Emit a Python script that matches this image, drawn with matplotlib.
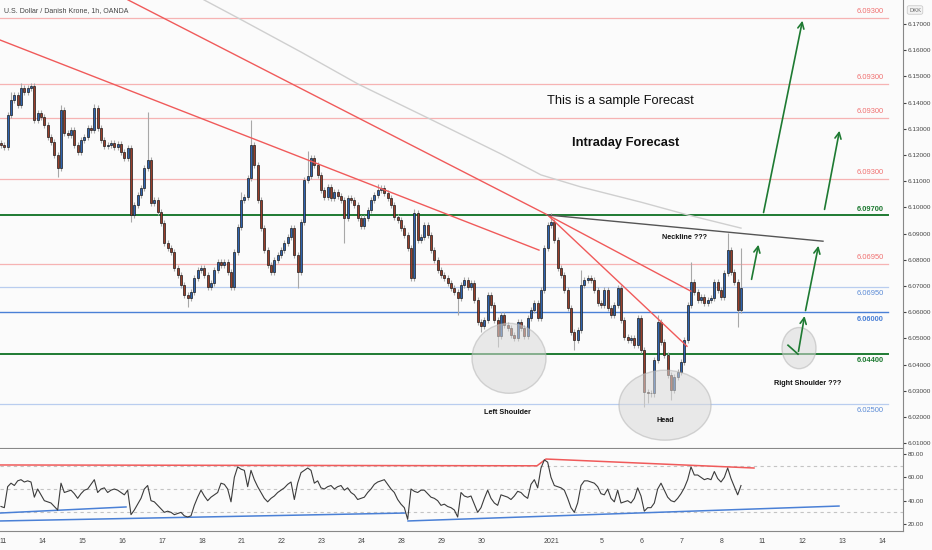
import matplotlib
matplotlib.use("Agg")
import matplotlib.pyplot as plt
from matplotlib.patches import Ellipse
from matplotlib.ticker import FormatStrFormatter
import numpy as np

plt.rcParams['font.family'] = ['Liberation Sans', 'DejaVu Sans']

# 2h closes, USD/DKK
closes = [
    6.1238, 6.1230, 6.1353, 6.1410, 6.1429, 6.1390, 6.1456, 6.1440, 6.1456, 6.1464,
    6.1334, 6.1360, 6.1345, 6.1314, 6.1269, 6.1250, 6.1200, 6.1150, 6.1372, 6.1284,
    6.1276, 6.1295, 6.1238, 6.1211, 6.1257, 6.1269, 6.1303, 6.1295, 6.1380, 6.1303,
    6.1257, 6.1234, 6.1238, 6.1246, 6.1230, 6.1242, 6.1211, 6.1188, 6.1227, 6.0971,
    6.1009, 6.1047, 6.1074, 6.1150, 6.1181, 6.1017, 6.1028, 6.0982, 6.0940, 6.0864,
    6.0845, 6.0829, 6.0768, 6.0742, 6.0703, 6.0665, 6.0654, 6.0677, 6.0730, 6.0761,
    6.0768, 6.0742, 6.0696, 6.0711, 6.0761, 6.0791, 6.0780, 6.0791, 6.0753, 6.0696,
    6.0829, 6.0925, 6.1028, 6.1040, 6.1112, 6.1238, 6.1162, 6.1028, 6.0921, 6.0837,
    6.0780, 6.0753, 6.0799, 6.0818, 6.0837, 6.0864, 6.0887, 6.0921, 6.0818, 6.0753,
    6.0944, 6.1104, 6.1120, 6.1188, 6.1162, 6.1124, 6.1066, 6.1040, 6.1078, 6.1036,
    6.1059, 6.1044, 6.1028, 6.0959, 6.1036, 6.1028, 6.1009, 6.0959, 6.0929, 6.0959,
    6.0990, 6.1028, 6.1047, 6.1066, 6.1074, 6.1055, 6.1036, 6.1009, 6.0963, 6.0952,
    6.0921, 6.0894, 6.0845, 6.0730, 6.0978, 6.0875, 6.0887, 6.0933, 6.0894, 6.0837,
    6.0799, 6.0761, 6.0742, 6.0730, 6.0711, 6.0692, 6.0677, 6.0654, 6.0703, 6.0722,
    6.0696, 6.0711, 6.0646, 6.0562, 6.0547, 6.0570, 6.0665, 6.0627, 6.0570, 6.0509,
    6.0589, 6.0551, 6.0539, 6.0512, 6.0501, 6.0562, 6.0539, 6.0509, 6.0577, 6.0608,
    6.0635, 6.0577, 6.0684, 6.0845, 6.0933, 6.0944, 6.0875, 6.0768, 6.0742, 6.0684,
    6.0616, 6.0524, 6.0493, 6.0531, 6.0703, 6.0722, 6.0730, 6.0722, 6.0684, 6.0635,
    6.0627, 6.0684, 6.0616, 6.0589, 6.0627, 6.0692, 6.0570, 6.0505, 6.0493, 6.0501,
    6.0474, 6.0577, 6.0455, 6.0294, 6.0290, 6.0290, 6.0417, 6.0562, 6.0486, 6.0436,
    6.0360, 6.0302, 6.0352, 6.0371, 6.0409, 6.0493, 6.0627, 6.0715, 6.0677, 6.0646,
    6.0658, 6.0635, 6.0646, 6.0654, 6.0715, 6.0684, 6.0658, 6.0749, 6.0837, 6.0753,
    6.0715, 6.0608, 6.0692,
]
first_open = 6.1245

# long wicks that stand out
wick_hi = {3: 6.1440, 6: 6.1475, 18: 6.1390, 28: 6.1395, 44: 6.1364, 72: 6.1060,
           75: 6.1334, 92: 6.1215, 113: 6.1090, 124: 6.0995, 165: 6.0978, 174: 6.0760,
           197: 6.0590, 207: 6.0790, 218: 6.0902, 222: 6.0845}
wick_lo = {17: 6.1116, 39: 6.0944, 56: 6.0619, 89: 6.0692, 103: 6.0864, 137: 6.0589,
           144: 6.0525, 149: 6.0467, 172: 6.0455, 193: 6.0237, 194: 6.0255, 201: 6.0264,
           221: 6.0543}

rsi = [
    35, 34, 52, 55, 53, 57, 58, 56, 57, 56,
    43, 50, 45, 40, 39, 38, 35, 32, 55, 47,
    48, 49, 46, 42, 46, 49, 50, 54, 58, 47,
    50, 51, 47, 49, 50, 49, 47, 45, 49, 28,
    32, 37, 42, 50, 53, 40, 39, 36, 33, 30,
    31, 30, 28, 29, 30, 27, 26, 27, 36, 43,
    49, 44, 40, 43, 45, 47, 55, 54, 50, 39,
    60, 69, 67, 66, 52, 66, 58, 52, 47, 42,
    39, 42, 44, 47, 49, 51, 54, 56, 41, 55,
    64, 66, 68, 66, 55, 57, 51, 50, 52, 53,
    50, 52, 53, 49, 51, 47, 45, 41, 42, 43,
    47, 50, 54, 56, 57, 58, 54, 50, 47, 41,
    37, 34, 24, 50, 48, 47, 49, 49, 46, 43,
    42, 40, 36, 37, 35, 34, 32, 26, 47, 44,
    43, 44, 37, 30, 34, 42, 49, 42, 38, 36,
    45, 44, 43, 41, 44, 48, 47, 44, 42, 54,
    58, 51, 68, 75, 73, 60, 53, 52, 51, 49,
    42, 34, 30, 38, 53, 57, 57, 56, 55, 52,
    46, 45, 50, 42, 39, 49, 38, 39, 40, 38,
    42, 51, 44, 31, 34, 34, 38, 50, 55, 49,
    43, 40, 39, 42, 46, 51, 58, 69, 62, 62,
    60, 58, 59, 58, 65, 59, 56, 60, 68, 59,
    52, 45, 53,
]

day_labels = ['11', '14', '15', '16', '17', '18', '21', '22', '23', '24', '28', '29',
              '30', '2021', '5', '6', '7', '8', '11', '12', '13', '14']
day_pos = [0.6, 12.3, 24.3, 36.3, 48.3, 60.3, 72.3, 84.3, 96.3, 108.3, 120.3, 132.3,
           144.3, 165.0, 180.3, 192.3, 204.3, 216.3, 228.3, 240.3, 252.3, 264.3]

# horizontal levels: price, label, kind
levels = [6.1723, 6.1471, 6.1341, 6.1108, 6.0970, 6.0784, 6.0696, 6.0600, 6.0440, 6.0250]
level_text = ['6.09300', '6.09300', '6.09300', '6.09300', '6.09700', '6.06950',
              '6.06950', '6.06000', '6.04400', '6.02500']
level_kind = ['red', 'red', 'red', 'red', 'green_top', 'red', 'blue_lt', 'blue', 'green', 'blue_lt']

# drawn trend lines (bar, price)
apex = (164.0, 6.0971)
line_a = [(-0.3, 6.1639), (161.4, 6.0837)]
line_b = [(38.1, 6.1792), apex]
line_c = [apex, (207.0, 6.0680)]
line_d = [apex, (205.8, 6.0470)]
neckline = [apex, (246.6, 6.0871)]
ma_x = [60.9, 71.1, 90.0, 107.1, 128.1, 150.0, 162.0, 174.0, 192.0, 206.1, 222.0]
ma_y = [6.1792, 6.1723, 6.1593, 6.1471, 6.1341, 6.1204, 6.1124, 6.1078, 6.1020, 6.0971, 6.0921]

arrows = [((228.6, 6.0970), (240.6, 6.1723)),
          ((246.9, 6.0982), (251.7, 6.1303)),
          ((225.0, 6.0715), (227.4, 6.0868)),
          ((239.1, 6.0440), (241.2, 6.0596)),
          ((241.2, 6.0596), (245.4, 6.0864))]

rsi_red = [(-0.3, 70.6), (160.8, 69.9), (163.5, 75.7), (225.9, 68.0)]
rsi_blue = [[(-0.3, 29.4), (37.5, 34.6)],
            [(-0.3, 22.6), (121.2, 29.4)],
            [(122.1, 22.6), (251.4, 35.4)]]

BG = '#fbfbfb'
RED_LT = '#f6b3b3'
RED = '#f05a5a'
GREEN = '#1e7a32'
BLUE = '#4a80d6'
BLUE_LT = '#b9cdef'
UP = '#2e63b0'
DOWN = '#9a3e2a'

fig = plt.figure(figsize=(9.32, 5.5), dpi=100, facecolor=BG)
ax = fig.add_axes([0, 1 - 448 / 550, 903 / 932, 448 / 550], facecolor=BG)
ax2 = fig.add_axes([0, 1 - 531 / 550, 903 / 932, 82 / 550], facecolor=BG, sharex=ax)

n = len(closes)
idx = np.arange(n)
c = np.array(closes)
o = np.concatenate([[first_open], c[:-1]])
hi = np.maximum(o, c) + 0.0012
lo = np.minimum(o, c) - 0.0012
for k, v in wick_hi.items():
    hi[k] = v
for k, v in wick_lo.items():
    lo[k] = v

# levels
for p, t, kind in zip(levels, level_text, level_kind):
    if kind == 'red':
        col, lw, tc, off, fw = RED_LT, 0.9, '#f07070', 4.5, 'normal'
    elif kind == 'green_top':
        col, lw, tc, off, fw = GREEN, 1.4, GREEN, 4.5, 'bold'
    elif kind == 'green':
        col, lw, tc, off, fw = GREEN, 1.4, GREEN, -4.5, 'bold'
    elif kind == 'blue':
        col, lw, tc, off, fw = BLUE, 1.0, BLUE, -5, 'bold'
    else:
        col, lw, tc, off, fw = BLUE_LT, 0.9, '#5b8bd6', -5, 'normal'
    ax.plot([-0.3, 266], [p, p], color=col, lw=lw, zorder=1)
    ax.annotate(t, (264.9, p), xytext=(0, off), textcoords='offset points',
                ha='right', va='center', fontsize=5.4, color=tc, fontweight=fw)

# moving average and trend lines
ax.plot(ma_x, ma_y, color='#cfcfcf', lw=1.0, zorder=2)
for seg in [line_a, line_b, line_c, line_d]:
    ax.plot(*zip(*seg), color=RED, lw=1.0, zorder=4)
ax.plot(*zip(*neckline), color='#555555', lw=1.0, zorder=4)

# candles
ax.vlines(idx, lo, hi, color='#a8a8a8', lw=0.8, zorder=3)
body_lo = np.minimum(o, c)
body_h = np.maximum(np.abs(c - o), 0.0002)
colors = [UP if cc >= oo else DOWN for oo, cc in zip(o, c)]
ax.bar(idx, body_h, bottom=body_lo, width=0.68, color=colors,
       edgecolor='#1c1c1c', linewidth=0.5, zorder=3)

# pattern ellipses
for (cx, cy, w, h) in [(152.4, 6.0424, 22.2, 0.0267), (199.2, 6.0245, 27.6, 0.0267),
                       (239.4, 6.0463, 10.2, 0.0157)]:
    ax.add_patch(Ellipse((cx, cy), w, h, facecolor='#d9d9d9', alpha=0.55,
                         edgecolor='#b5b5b5', lw=1.0, zorder=5))

for tail, head in arrows:
    ax.annotate('', xy=head, xytext=tail,
                arrowprops=dict(arrowstyle='->', color=GREEN, lw=1.2, mutation_scale=11),
                zorder=6)
ax.plot([236.1, 239.1], [6.0474, 6.0440], color=GREEN, lw=1.2, zorder=6)

txt = dict(ha='center', va='center', color='#111111', zorder=7)
ax.text(185.7, 6.1405, 'This is a sample Forecast', fontsize=9.3, **txt)
ax.text(187.5, 6.1247, 'Intraday Forecast', fontsize=9.3, fontweight='bold', **txt)
ax.text(205.0, 6.0887, 'Neckline ???', fontsize=5.2, fontweight='bold', **txt)
ax.text(151.8, 6.0218, 'Left Shoulder', fontsize=5.2, fontweight='bold', **txt)
ax.text(199.2, 6.0188, 'Head', fontsize=5.2, fontweight='bold', **txt)
ax.text(242.1, 6.0329, 'Right Shoulder ???', fontsize=5.2, fontweight='bold', **txt)
ax.text(4 / 903, 1 - 11 / 448, 'U.S. Dollar / Danish Krone, 1h, OANDA', transform=ax.transAxes,
        fontsize=5.0, color='#444444', va='center')

ax.set_xlim(-0.3, 270.6)
ax.set_ylim(6.00817, 6.17916)
ax.yaxis.tick_right()
ax.set_yticks(np.arange(6.01, 6.1705, 0.01))
ax.yaxis.set_major_formatter(FormatStrFormatter('%.5f'))
ax.tick_params(axis='y', labelsize=4.6, colors='#444444', length=2.0, pad=1.2)
ax.tick_params(axis='x', bottom=False, labelbottom=False)
for s in ['left', 'top']:
    ax.spines[s].set_visible(False)
ax.spines['right'].set_color('#888888')
ax.spines['bottom'].set_color('#888888')

# RSI panel
for lvl in [70, 50, 30]:
    ax2.axhline(lvl, color='#c4c4c4', lw=0.8, ls=(0, (3, 3)), zorder=1)
ax2.plot(idx, rsi, color='#3c3c3c', lw=0.8, zorder=3)
ax2.plot(*zip(*rsi_red), color=RED, lw=1.1, zorder=2)
for seg in rsi_blue:
    ax2.plot(*zip(*seg), color=BLUE, lw=1.1, zorder=2)
ax2.set_ylim(14.0, 84.3)
ax2.yaxis.tick_right()
ax2.set_yticks([20, 40, 60, 80])
ax2.yaxis.set_major_formatter(FormatStrFormatter('%.2f'))
ax2.tick_params(axis='y', labelsize=4.6, colors='#444444', length=2.0, pad=1.2)
ax2.set_xticks(day_pos)
ax2.set_xticklabels(day_labels)
ax2.tick_params(axis='x', labelsize=5.0, colors='#444444', length=0, pad=5)
for s in ['left', 'top']:
    ax2.spines[s].set_visible(False)
ax2.spines['right'].set_color('#888888')
ax2.spines['bottom'].set_color('#888888')

fig.text(915 / 932, 1 - 10 / 550, 'DKK', fontsize=4.2, color='#666666', ha='center', va='center',
         bbox=dict(boxstyle='round,pad=0.3', fc='#f3f3f3', ec='#cccccc', lw=0.6))

fig.savefig('out.png', dpi=100, facecolor=BG)
